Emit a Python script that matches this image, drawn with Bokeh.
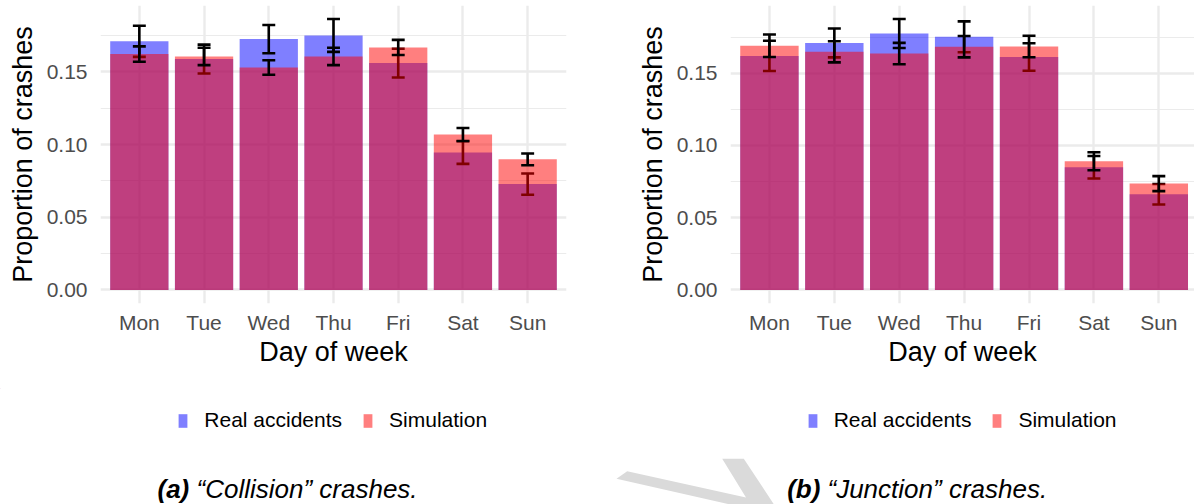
from bokeh.plotting import figure
from bokeh.models import Range1d, FixedTicker, Legend, LegendItem, PrintfTickFormatter
from bokeh.layouts import row, column
from bokeh.embed import file_html
from bokeh.resources import INLINE
from bokeh.core.properties import value

# ---- data -------------------------------------------------------------
days = ["Mon", "Tue", "Wed", "Thu", "Fri", "Sat", "Sun"]

# "Collision" crashes: share of crashes per weekday and error-bar half widths
collision_real = [0.1710, 0.1588, 0.1725, 0.1750, 0.1560, 0.0945, 0.0728]
collision_real_err = [0.0107, 0.0099, 0.0097, 0.0113, 0.0099, 0.0078, 0.0073]
collision_sim = [0.1622, 0.1606, 0.1530, 0.1606, 0.1668, 0.1069, 0.0898]
collision_sim_err = [0.0053, 0.0060, 0.0050, 0.0060, 0.0052, 0.0045, 0.0040]

# "Junction" crashes
junction_real = [0.1620, 0.1710, 0.1775, 0.1752, 0.1612, 0.0849, 0.0662]
junction_real_err = [0.0105, 0.0100, 0.0100, 0.0107, 0.0095, 0.0078, 0.0071]
junction_sim = [0.1690, 0.1648, 0.1636, 0.1684, 0.1685, 0.0891, 0.0736]
junction_sim_err = [0.0078, 0.0073, 0.0074, 0.0074, 0.0074, 0.0062, 0.0052]

y_ticks = [0.0, 0.05, 0.10, 0.15]
y_minor_ticks = [0.025, 0.075, 0.125, 0.175]

series_labels = ["Real accidents", "Simulation"]

# ---- style ------------------------------------------------------------
FONT = "Liberation Sans"
REAL_COLOR = "#0000FF"
SIM_COLOR = "#FF0000"
GRID = "#EBEBEB"
BAR_WIDTH = 0.9
CAP_HALF = 0.1
ERR_WIDTH = 2.6
PANEL_BOTTOM = 85          # space under each frame for tick labels + axis title
STRIP_TOP = 5 + 298 + PANEL_BOTTOM


def error_bars(p, xs, vals, errs):
    lo = [v - e for v, e in zip(vals, errs)]
    hi = [v + e for v, e in zip(vals, errs)]
    left = [x - CAP_HALF for x in xs]
    right = [x + CAP_HALF for x in xs]
    kw = dict(line_color="black", line_width=ERR_WIDTH, line_cap="butt")
    p.segment(x0=xs, y0=lo, x1=xs, y1=hi, **kw)
    p.segment(x0=left, y0=hi, x1=right, y1=hi, **kw)
    p.segment(x0=left, y0=lo, x1=right, y1=lo, **kw)


def panel(real, real_err, sim, sim_err, frame_w, border_left, border_right, x_end):
    xs = list(range(1, len(days) + 1))
    top = max(max(v + e for v, e in zip(real, real_err)),
              max(v + e for v, e in zip(sim, sim_err)))
    p = figure(frame_width=frame_w, frame_height=298,
               x_range=Range1d(0.4, x_end),
               y_range=Range1d(-0.05 * top, 1.05 * top),
               output_backend="svg", toolbar_location=None,
               min_border_left=border_left, min_border_right=border_right,
               min_border_top=5, min_border_bottom=PANEL_BOTTOM)
    p.title.visible = False
    p.outline_line_color = None
    p.background_fill_color = "white"
    p.border_fill_color = "white"

    # real accidents first, its error bars, then the simulation on top
    p.vbar(x=xs, top=real, width=BAR_WIDTH, fill_color=REAL_COLOR,
           fill_alpha=0.5, line_color=None)
    error_bars(p, xs, real, real_err)
    p.vbar(x=xs, top=sim, width=BAR_WIDTH, fill_color=SIM_COLOR,
           fill_alpha=0.5, line_color=None)
    error_bars(p, xs, sim, sim_err)

    xa = p.xaxis[0]
    xa.ticker = FixedTicker(ticks=xs)
    xa.major_label_overrides = {x: d for x, d in zip(xs, days)}
    xa.axis_label = "Day of week"
    xa.major_label_standoff = 7
    xa.axis_label_standoff = 0

    ya = p.yaxis[0]
    ya.ticker = FixedTicker(ticks=y_ticks, minor_ticks=y_minor_ticks)
    ya.formatter = PrintfTickFormatter(format="%.2f")
    ya.axis_label = "Proportion of crashes"
    ya.major_label_standoff = 13
    ya.axis_label_standoff = 6

    for ax in (xa, ya):
        ax.axis_line_color = None
        ax.major_tick_line_color = None
        ax.minor_tick_line_color = None
        ax.major_tick_out = 0
        ax.major_tick_in = 0
        ax.minor_tick_out = 0
        ax.minor_tick_in = 0
        ax.major_label_text_font = FONT
        ax.major_label_text_font_size = "21px"
        ax.major_label_text_color = "#4D4D4D"
        ax.axis_label_text_font = FONT
        ax.axis_label_text_font_size = "27px"
        ax.axis_label_text_font_style = "normal"
        ax.axis_label_text_color = "black"

    p.xgrid.grid_line_color = GRID
    p.xgrid.grid_line_width = 2.4
    p.ygrid.grid_line_color = GRID
    p.ygrid.grid_line_width = 2.4
    p.ygrid.minor_grid_line_color = GRID
    p.ygrid.minor_grid_line_width = 1.2
    return p


left = panel(collision_real, collision_real_err, collision_sim, collision_sim_err,
             frame_w=466, border_left=100, border_right=31, x_end=7.6)
right = panel(junction_real, junction_real_err, junction_sim, junction_sim_err,
              frame_w=464, border_left=133, border_right=0, x_end=7.55)

# ---- strip under the panels: legends, sub-captions ----------------------
# pixel-aligned canvas, y grows downwards
strip = figure(width=1194, height=504 - STRIP_TOP,
               x_range=Range1d(0, 1194), y_range=Range1d(504, STRIP_TOP),
               x_axis_location=None, y_axis_location=None, output_backend="svg",
               toolbar_location=None, min_border=0)
strip.title.visible = False
strip.outline_line_color = None
strip.grid.visible = False
strip.border_fill_color = "white"
strip.background_fill_color = "white"

# light grey stroke behind the right caption
wm_x = [616, 626.7, 745.5, 721.7, 743.3, 773.5, 729.7]
wm_y = [478.3, 470.7, 496.9, 458.3, 458.3, 504, 504]
strip.patch(x=wm_x, y=wm_y, fill_color="#DADADA", line_color=None)

# zero-height swatch bars carrying the bar styling for the legends
real_key = strip.vbar(x=[0], top=[0], width=1, fill_color=REAL_COLOR, fill_alpha=0.5, line_color=None)
sim_key = strip.vbar(x=[0], top=[0], width=1, fill_color=SIM_COLOR, fill_alpha=0.5, line_color=None)

for lx in (177.3, 806.7):
    strip.add_layout(Legend(
        items=[LegendItem(label=series_labels[0], renderers=[real_key]),
               LegendItem(label=series_labels[1], renderers=[sim_key])],
        orientation="horizontal", location=(lx, 72), margin=0, padding=0,
        spacing=20, label_standoff=16, glyph_width=11, glyph_height=17, label_height=17,
        label_text_font=FONT, label_text_font_size="21px", label_text_color="black",
        border_line_color=None, background_fill_alpha=0))

captions = [("(a)", "\u201cCollision\u201d crashes.", 157.0, 196.0),
            ("(b)", "\u201cJunction\u201d crashes.", 786.7, 827.0)]
for tag, text, tx, rx in captions:
    strip.text(x=[tx], y=[488.5], text=[tag], text_font=value(FONT),
               text_font_size=value("26px"), text_font_style=value("bold italic"),
               text_color="black", text_baseline="alphabetic", text_align="left")
    strip.text(x=[rx], y=[488.5], text=[text], text_font=value(FONT),
               text_font_size=value("26px"), text_font_style=value("italic"),
               text_color="black", text_baseline="alphabetic", text_align="left")

layout = column(row(left, right), strip)
open("out.html", "w").write(file_html(layout, INLINE))
